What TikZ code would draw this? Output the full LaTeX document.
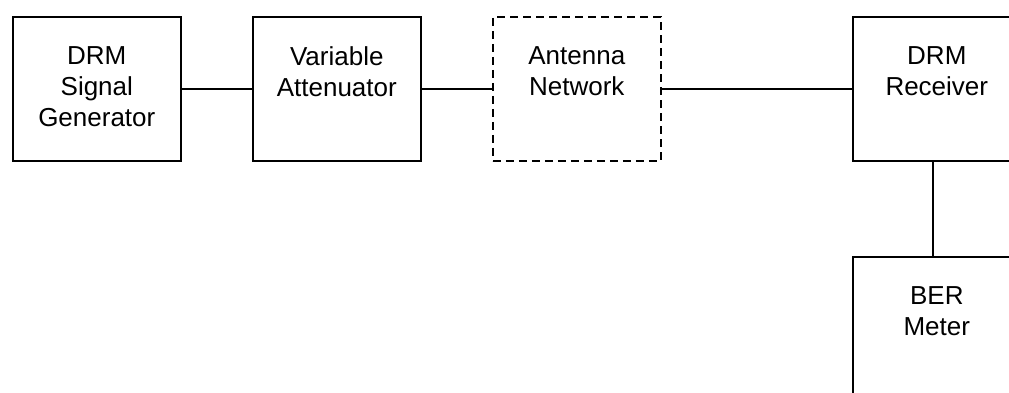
\documentclass[tikz,border=0pt]{standalone}
\usepackage{fontspec}
\setmainfont{Liberation Sans}
\begin{document}
\begin{tikzpicture}[x=1pt,y=1pt,
  block/.style={draw=black,line width=1.6pt,minimum width=168pt,minimum height=144pt,inner sep=0pt,anchor=north west},
  dashblock/.style={block,dash pattern=on 8pt off 5pt},
  lbl/.style={anchor=north,inner sep=0pt,align=center,font=\fontsize{26}{31}\selectfont},
  wire/.style={line width=1.6pt}]
\useasboundingbox (0,0) rectangle (1009,-392);
% blocks
\node[block] (gen) at (12,-16) {};
\node[block] (att) at (252,-16) {};
\node[dashblock] (ant) at (492,-16) {};
\node[block] (rx) at (852,-16) {};
\node[block] (ber) at (852,-256) {};
% labels
\node[lbl] (tgen) at ([yshift=-30pt]gen.north) {DRM\\Signal\\Generator};
\node[lbl] (tatt) at ([yshift=-30pt]att.north) {Variable\\Attenuator};
\node[lbl] (tant) at ([yshift=-30pt]ant.north) {Antenna\\Network};
\node[lbl] (trx) at ([yshift=-30pt]rx.north) {DRM\\Receiver};
\node[lbl] (tber) at ([yshift=-30pt]ber.north) {BER\\Meter};
% connections
\draw[wire] (gen.east) -- (att.west);
\draw[wire] (att.east) -- (ant.west);
\draw[wire] (ant.east) -- (rx.west);
\draw[wire] ([xshift=-4pt]rx.south) -- ([xshift=-4pt]ber.north);
\end{tikzpicture}
\end{document}
